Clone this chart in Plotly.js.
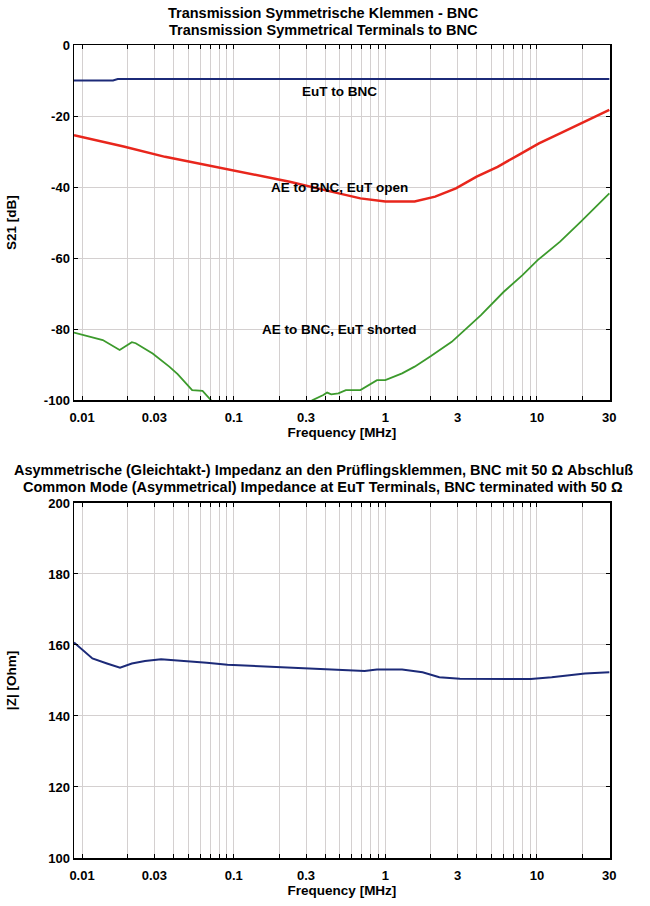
<!DOCTYPE html>
<html>
<head>
<meta charset="utf-8">
<script src="https://cdn.plot.ly/plotly-3.0.1.min.js"></script>
<style>html,body{margin:0;padding:0;background:#fff;}#chart{width:650px;height:906px;}</style>
</head>
<body>
<div id="chart"></div>
<script>
// ---- data ----
const eutFreq = [0.00885, 0.016, 0.0172, 30];
const eutS21  = [-10.0, -10.0, -9.6, -9.6];

const openFreq = [0.00885, 0.0188, 0.0353, 0.0664, 0.125, 0.234, 0.44, 0.685, 1.0, 1.56, 2.13, 2.92, 4.0, 5.5, 7.53, 10.3, 14.2, 19.4, 30];
const openS21  = [-25.4, -28.6, -31.5, -33.8, -36.2, -38.5, -41.3, -43.2, -44.1, -44.1, -42.7, -40.4, -37.1, -34.3, -31.0, -27.7, -24.9, -22.1, -18.3];

const shortFreq = [0.00885, 0.0137, 0.0177, 0.0213, 0.0226, 0.0292, 0.0376, 0.0427, 0.0532, 0.0623, 0.0707, 0.1, 0.2, 0.332, 0.39, 0.413, 0.44, 0.49, 0.549, 0.685, 0.881, 1.0, 1.29, 1.56, 2.0, 2.74, 3.53, 4.27, 6.04, 8.02, 10.1, 14.2, 19.4, 30];
const shortS21  = [-81.0, -83.1, -85.9, -83.7, -84.0, -86.9, -90.6, -92.7, -97.2, -97.4, -100.0, -106, -106, -100.0, -98.6, -97.9, -98.4, -98.1, -97.2, -97.2, -94.4, -94.4, -92.5, -90.6, -87.6, -83.6, -79.3, -76.1, -69.5, -64.8, -60.6, -55.4, -49.8, -41.8];

const zFreq = [0.00885, 0.0117, 0.0146, 0.0178, 0.0213, 0.026, 0.0332, 0.0455, 0.0664, 0.091, 0.171, 0.321, 0.604, 0.73, 0.88, 1.29, 1.76, 2.27, 3.1, 9.1, 12.5, 20.7, 30];
const zOhm  = [160.7, 156.2, 154.8, 153.6, 154.8, 155.5, 156.0, 155.6, 155.0, 154.4, 153.9, 153.2, 152.9, 152.7, 153.1, 153.1, 152.3, 150.9, 150.5, 150.4, 150.9, 152.0, 152.3];

const xGridVals = [0.01,0.02,0.03,0.04,0.05,0.06,0.07,0.08,0.09,
                   0.1,0.2,0.3,0.4,0.5,0.6,0.7,0.8,0.9,
                   1,2,3,4,5,6,7,8,9,10,20,30];
const xLabeled = ['0.01','0.03','0.1','0.3','1','3','10','30'];
const xTickText = xGridVals.map(v => { const s = String(v); return xLabeled.includes(s) ? s : ''; });

const s21Ticks = [0, -20, -40, -60, -80, -100];
const s21Text  = ['0', '-20', '-40', '-60', '-80', '-100'];
const zTicks = [100, 120, 140, 160, 180, 200];
const zText  = ['100', '120', '140', '160', '180', '200'];

const labels = [
  {text: 'EuT to BNC', f: 0.5, v: -13},
  {text: 'AE to BNC, EuT open', f: 0.5, v: -40},
  {text: 'AE to BNC, EuT shorted', f: 0.5, v: -80}
];

const topTitle1 = 'Transmission Symmetrische Klemmen - BNC';
const topTitle2 = 'Transmission Symmetrical Terminals to BNC';
const botTitle1 = 'Asymmetrische (Gleichtakt-) Impedanz an den Prüflingsklemmen, BNC mit 50 Ω Abschluß';
const botTitle2 = 'Common Mode (Asymmetrical) Impedance at EuT Terminals, BNC terminated with 50 Ω';

// ---- chart ----
const FONT = 'Liberation Sans, Arial, sans-serif';
const navy = '#1c2a78', red = '#e8261c', green = '#3c9a2c';

const traces = [
  {x: eutFreq, y: eutS21, mode: 'lines', line: {color: navy, width: 2}, xaxis: 'x', yaxis: 'y'},
  {x: openFreq, y: openS21, mode: 'lines', line: {color: red, width: 2.5}, xaxis: 'x', yaxis: 'y'},
  {x: shortFreq, y: shortS21, mode: 'lines', line: {color: green, width: 1.8}, xaxis: 'x', yaxis: 'y'},
  {x: zFreq, y: zOhm, mode: 'lines', line: {color: navy, width: 2}, xaxis: 'x2', yaxis: 'y2'}
];

const xBase = {
  type: 'log', range: [Math.log10(0.00885), Math.log10(30.3)],
  tickmode: 'array', tickvals: xGridVals, ticktext: xTickText,
  showgrid: true, gridcolor: '#d4d0d0', gridwidth: 1,
  ticks: 'inside', ticklen: 4, tickcolor: '#000', mirror: 'ticks',
  showline: true, linecolor: '#000', linewidth: 1.5,
  zeroline: false, ticklabelstandoff: 5,
  tickfont: {family: FONT, size: 13, color: '#000', weight: 'bold'},
  title: {text: '<b>Frequency [MHz]</b>', font: {family: FONT, size: 13.5, color: '#000'}, standoff: 3}
};
const yBase = {
  tickmode: 'array', showgrid: true, gridcolor: '#d4d0d0', gridwidth: 1,
  ticks: 'inside', ticklen: 4, tickcolor: '#000', mirror: 'ticks',
  showline: true, linecolor: '#000', linewidth: 1.5, zeroline: false,
  tickfont: {family: FONT, size: 13, color: '#000', weight: 'bold'}
};

function paperY(px) { return (858 - px) / 813; }
function titleAnn(text, px) {
  return {x: 0.4646, y: paperY(px), xref: 'paper', yref: 'paper', text: '<b>' + text + '</b>', showarrow: false,
          font: {family: FONT, size: 14.5, color: '#000'}, xanchor: 'center', yanchor: 'middle'};
}

const layout = {
  width: 650, height: 906,
  margin: {l: 74, r: 40, t: 45, b: 48},
  paper_bgcolor: '#fff', plot_bgcolor: '#fff',
  showlegend: false,
  font: {family: FONT, color: '#000'},
  xaxis: Object.assign({}, xBase, {anchor: 'y'}),
  xaxis2: Object.assign({}, xBase, {anchor: 'y2'}),
  yaxis: Object.assign({}, yBase, {domain: [0.5633, 1], range: [-100, 0], tickvals: s21Ticks, ticktext: s21Text, anchor: 'x',
    title: {text: '<b>S21 [dB]</b>', font: {family: FONT, size: 13.5, color: '#000'}, standoff: 24}}),
  yaxis2: Object.assign({}, yBase, {domain: [0, 0.4367], range: [100, 200], tickvals: zTicks, ticktext: zText, anchor: 'x2',
    title: {text: '<b>|Z| [Ohm]</b>', font: {family: FONT, size: 13.5, color: '#000'}, standoff: 28}}),
  annotations: labels.map(l => ({
    x: Math.log10(l.f), y: l.v, xref: 'x', yref: 'y', text: '<b>' + l.text + '</b>',
    showarrow: false, font: {family: FONT, size: 13.5, color: '#000'}
  })).concat([
    titleAnn(topTitle1, 13), titleAnn(topTitle2, 30),
    titleAnn(botTitle1, 470), titleAnn(botTitle2, 487)
  ])
};

Plotly.newPlot('chart', traces, layout, {displayModeBar: false, staticPlot: true});
</script>
</body>
</html>
